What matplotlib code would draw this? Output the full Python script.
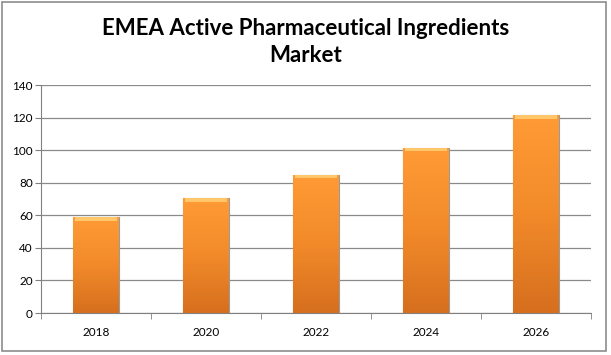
import numpy as np
import matplotlib.pyplot as plt
from matplotlib.patches import Rectangle
from matplotlib.colors import LinearSegmentedColormap

years = ["2018", "2020", "2022", "2024", "2026"]
values = [58.8, 70.6, 84.8, 101.6, 121.4]

plt.rcParams["font.family"] = ["Lato", "DejaVu Sans"]

fig = plt.figure(figsize=(6.11, 3.55), dpi=100)
ax = fig.add_axes([41 / 611, 1 - 313 / 355, 550 / 611, 228 / 355])

x = np.arange(len(years))
bars = ax.bar(x, values, width=0.41, color="#F7922F", edgecolor="#9a9a9a",
              linewidth=0.8, zorder=3)

# vertical orange gradient on each bar
cmap = LinearSegmentedColormap.from_list("org", ["#D66F1E", "#F28A2A", "#FF9B36"])
grad = np.linspace(0, 1, 256).reshape(-1, 1)
for b in bars:
    x0, w, h = b.get_x(), b.get_width(), b.get_height()
    im = ax.imshow(grad, extent=[x0, x0 + w, 0, h], origin="lower", cmap=cmap,
                   aspect="auto", zorder=3.5)
    im.set_clip_path(b)
    # lighter bevel at the top
    ax.add_patch(Rectangle((x0 + 0.01, h - 2.2), w - 0.02, 2.2,
                           color="#FFC76A", zorder=3.6, linewidth=0))

ax.set_xlim(-0.5, len(years) - 0.5)
ax.set_ylim(0, 140)
ax.set_yticks(range(0, 141, 20))
ax.set_xticks(x)
ax.set_xticklabels(years)
ax.set_xticks(np.arange(-0.5, len(years)), minor=True)
ax.tick_params(axis="x", which="major", length=0, pad=10, labelsize=8.5)
ax.tick_params(axis="x", which="minor", length=4, color="#808080", direction="out")
ax.tick_params(axis="y", length=4, color="#808080", labelsize=8.5, pad=2)
ax.grid(axis="y", color="#8a8a8a", linewidth=0.9, zorder=0)

for side in ["top", "right"]:
    ax.spines[side].set_visible(False)
ax.spines["left"].set_color("#808080")
ax.spines["bottom"].set_color("#808080")

fig.text(0.5, 1 - 42 / 355, "EMEA Active Pharmaceutical Ingredients\nMarket",
         ha="center", va="center", fontsize=16, fontweight="bold",
         linespacing=1.3)

fig.patches.append(Rectangle((0.004, 0.01), 0.988, 0.984, transform=fig.transFigure,
                             fill=False, edgecolor="#8c8c8c", linewidth=1.2))

fig.savefig("out.png", dpi=100)
